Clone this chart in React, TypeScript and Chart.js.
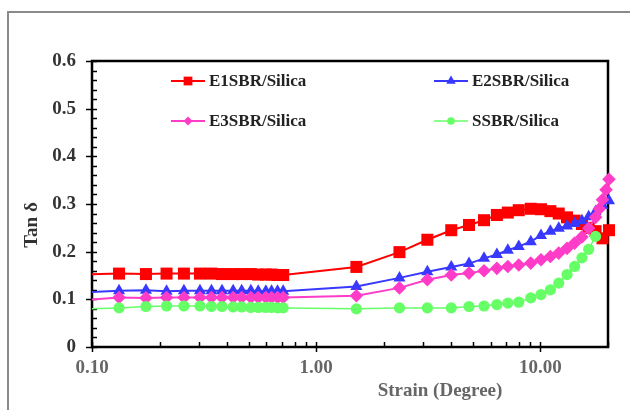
import React, { useEffect, useRef } from 'react';
import { Chart, registerables } from 'chart.js';

Chart.register(...registerables);

// Strain (Degree) — shared x values (first one lies just left of the axis, line is clipped there)
const strain = [
  0.07, 0.132, 0.174, 0.215, 0.257, 0.303, 0.341, 0.38, 0.426, 0.465, 0.511, 0.551, 0.596, 0.632, 0.672, 0.712,
  1.51, 2.35, 3.13, 4.0, 4.8, 5.6, 6.39, 7.15, 8.0, 9.05, 10.05, 11.07, 12.06, 13.13, 14.2, 15.3, 16.4, 17.6, 18.3,
  18.9, 19.6, 20.2,
];

const e1sbr = [
  0.1505, 0.154, 0.153, 0.154, 0.154, 0.154, 0.154, 0.153, 0.153, 0.153, 0.153, 0.152, 0.152, 0.152, 0.151, 0.151,
  0.168, 0.199, 0.225, 0.245, 0.256, 0.266, 0.277, 0.282, 0.287, 0.29, 0.289, 0.285, 0.28, 0.272, 0.265, 0.258, 0.25,
  0.243, null, 0.228, null, 0.245,
];
const e2sbr = [
  0.1126, 0.118, 0.119, 0.117, 0.118, 0.118, 0.118, 0.118, 0.118, 0.118, 0.118, 0.117, 0.117, 0.117, 0.117, 0.117,
  0.127, 0.145, 0.158, 0.168, 0.175, 0.186, 0.194, 0.203, 0.211, 0.221, 0.234, 0.243, 0.249, 0.254, 0.259, 0.265,
  0.273, 0.284, null, 0.297, null, 0.307,
];
const e3sbr = [
  0.0935, 0.104, 0.103, 0.104, 0.104, 0.104, 0.104, 0.104, 0.104, 0.104, 0.104, 0.104, 0.104, 0.104, 0.104, 0.104,
  0.1075, 0.124, 0.141, 0.151, 0.155, 0.16, 0.165, 0.169, 0.172, 0.176, 0.183, 0.19, 0.197, 0.207, 0.218, 0.231,
  0.249, 0.272, 0.29, 0.309, 0.33, 0.352,
];
const ssbr = [
  0.0779, 0.082, 0.085, 0.086, 0.086, 0.086, 0.085, 0.085, 0.084, 0.084, 0.083, 0.083, 0.083, 0.083, 0.082, 0.082,
  0.08, 0.082, 0.082, 0.082, 0.085, 0.086, 0.089, 0.092, 0.094, 0.103, 0.11, 0.12, 0.134, 0.152, 0.169, 0.187, 0.205,
  0.232,
];

const seriesNames = ['E1SBR/Silica', 'E2SBR/Silica', 'E3SBR/Silica', 'SSBR/Silica'];
const xTickValues = [0.1, 1, 10];
const yMajorStep = 0.1;
const yMinorStep = 0.02;
const xTitle = 'Strain (Degree)';
const yTitle = 'Tan δ';

const FONT = '"Liberation Serif", "Times New Roman", serif';

const styles = [
  { color: '#FF0000', shape: 'rect', radius: 8.5, lw: 2, legendR: 6.2 },
  { color: '#3838FF', shape: 'triangle', radius: 7, lw: 2, legendR: 5.5 },
  { color: '#FF3CC8', shape: 'rectRot', radius: 6.8, lw: 2, legendR: 4.5 },
  { color: '#66FF66', shape: 'circle', radius: 5.6, lw: 1.5, legendR: 3.8 },
];

function toPoints(vals: (number | null)[]) {
  return strain
    .map((x, i) => ({ x, y: vals[i] }))
    .filter((p) => p.y !== undefined && p.y !== null);
}

function drawMarker(ctx: CanvasRenderingContext2D, shape: string, x: number, y: number, r: number) {
  ctx.beginPath();
  if (shape === 'rect') {
    const s = r * Math.SQRT1_2;
    ctx.rect(x - s, y - s, 2 * s, 2 * s);
  } else if (shape === 'triangle') {
    ctx.moveTo(x, y - r);
    ctx.lineTo(x + r * Math.sin((2 * Math.PI) / 3), y + r / 2);
    ctx.lineTo(x - r * Math.sin((2 * Math.PI) / 3), y + r / 2);
    ctx.closePath();
  } else if (shape === 'rectRot') {
    ctx.moveTo(x, y - r);
    ctx.lineTo(x + r, y);
    ctx.lineTo(x, y + r);
    ctx.lineTo(x - r, y);
    ctx.closePath();
  } else {
    ctx.arc(x, y, r, 0, Math.PI * 2);
  }
  ctx.fill();
}

const framePlugin = {
  id: 'frameTicks',
  beforeDatasetsDraw(chart: any) {
    const { ctx, chartArea: a, scales } = chart;
    const ys = scales.y;
    const xs = scales.x;
    ctx.save();
    ctx.strokeStyle = '#000';
    ctx.lineWidth = 1.5;
    // y ticks
    const nMinor = Math.round((ys.max - ys.min) / yMinorStep);
    for (let i = 0; i <= nMinor; i++) {
      const v = ys.min + i * yMinorStep;
      const py = Math.round(ys.getPixelForValue(v)) + 0.5;
      const major = Math.abs(v / yMajorStep - Math.round(v / yMajorStep)) < 1e-6;
      ctx.beginPath();
      if (major) {
        ctx.moveTo(a.left - 6, py);
        ctx.lineTo(a.left + 5, py);
      } else {
        ctx.moveTo(a.left, py);
        ctx.lineTo(a.left + 5, py);
      }
      ctx.stroke();
    }
    // x ticks (log)
    for (let dec = 0.1; dec < xs.max; dec *= 10) {
      for (let m = 1; m <= 9; m++) {
        const v = dec * m;
        if (v < xs.min - 1e-9 || v > xs.max + 1e-9) continue;
        const px = Math.round(xs.getPixelForValue(v)) + 0.5;
        ctx.beginPath();
        if (m === 1) {
          ctx.moveTo(px, a.bottom - 5);
          ctx.lineTo(px, a.bottom + 5);
        } else {
          ctx.moveTo(px, a.bottom - 5);
          ctx.lineTo(px, a.bottom);
        }
        ctx.stroke();
      }
    }
    // frame
    ctx.lineWidth = 2.5;
    ctx.strokeRect(a.left, a.top, a.right - a.left, a.bottom - a.top);
    ctx.restore();
  },
  afterDraw(chart: any) {
    const { ctx, chartArea: a } = chart;
    ctx.save();
    // axis titles
    ctx.font = `bold 19px ${FONT}`;
    ctx.textAlign = 'center';
    ctx.textBaseline = 'middle';
    ctx.fillStyle = '#666';
    ctx.fillText(xTitle, a.left + 348, 391);
    ctx.fillStyle = '#333';
    ctx.translate(32, 225);
    ctx.rotate(-Math.PI / 2);
    ctx.fillText(yTitle, 0, 0);
    ctx.restore();

    // legend (2 x 2)
    ctx.save();
    const cols = [a.left + 79, a.left + 342];
    const rows = [a.top + 20, a.top + 60];
    chart.data.datasets.forEach((ds: any, i: number) => {
      const st = styles[i];
      const x0 = cols[i % 2];
      const y0 = rows[Math.floor(i / 2)];
      ctx.strokeStyle = st.color;
      ctx.fillStyle = st.color;
      ctx.lineWidth = st.lw;
      ctx.beginPath();
      ctx.moveTo(x0, y0);
      ctx.lineTo(x0 + 34, y0);
      ctx.stroke();
      drawMarker(ctx, st.shape, x0 + 17, y0, st.legendR);
      ctx.fillStyle = '#222';
      ctx.font = `bold 17px ${FONT}`;
      ctx.textAlign = 'left';
      ctx.textBaseline = 'middle';
      ctx.fillText(ds.label, x0 + 38, y0 + 1);
    });
    ctx.restore();
  },
};

export default function App() {
  const ref = useRef<HTMLCanvasElement | null>(null);

  useEffect(() => {
    if (!ref.current) return;
    const all = [e1sbr, e2sbr, e3sbr, ssbr];
    const chart = new Chart(ref.current, {
      type: 'line',
      data: {
        datasets: all.map((vals, i) => ({
          label: seriesNames[i],
          data: toPoints(vals),
          borderColor: styles[i].color,
          backgroundColor: styles[i].color,
          pointBackgroundColor: styles[i].color,
          pointBorderColor: styles[i].color,
          pointBorderWidth: 0,
          pointStyle: styles[i].shape as any,
          pointRadius: styles[i].radius,
          borderWidth: styles[i].lw,
          tension: 0,
          order: 4 - i,
          clip: { left: 0, top: 20, right: 20, bottom: 20 } as any,
        })),
      },
      options: {
        animation: false,
        responsive: false,
        devicePixelRatio: 1,
        parsing: false as any,
        layout: { padding: { left: 0, top: 61, right: 22, bottom: 0 } },
        plugins: { legend: { display: false }, tooltip: { enabled: false } },
        scales: {
          x: {
            type: 'logarithmic',
            min: 0.1,
            max: 20,
            grid: { display: false, drawTicks: false },
            border: { display: false },
            afterFit: (s: any) => {
              s.height = 63;
            },
            afterBuildTicks: (s: any) => {
              s.ticks = xTickValues.map((v) => ({ value: v }));
            },
            ticks: {
              autoSkip: false,
              maxRotation: 0,
              padding: 10,
              color: '#666',
              font: { family: FONT, size: 19, weight: 'bold' },
              callback: (v: any) => Number(v).toFixed(2),
            },
          },
          y: {
            type: 'linear',
            min: 0,
            max: 0.6,
            grid: { display: false, drawTicks: false },
            border: { display: false },
            afterFit: (s: any) => {
              s.width = 92;
            },
            ticks: {
              stepSize: yMajorStep,
              padding: 16,
              color: '#333',
              font: { family: FONT, size: 19, weight: 'bold' },
              callback: (v: any) => (Number(v) === 0 ? '0' : Number(v).toFixed(1)),
            },
          },
        },
      },
      plugins: [framePlugin],
    });
    return () => chart.destroy();
  }, []);

  return (
    <div style={{ position: 'fixed', left: 0, top: 0, width: 630, height: 410, background: '#fff', overflow: 'hidden' }}>
      <div
        style={{
          position: 'absolute',
          left: 7,
          top: 11,
          width: 660,
          height: 440,
          border: '2px solid #8a8a8a',
          boxSizing: 'border-box',
        }}
      />
      <canvas ref={ref} width={630} height={410} style={{ position: 'absolute', left: 0, top: 0 }} />
    </div>
  );
}
